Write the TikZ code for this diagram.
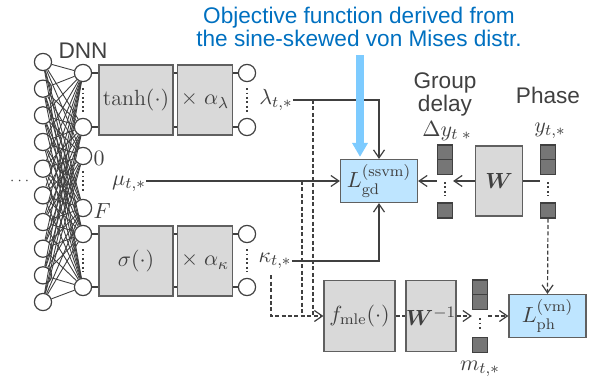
\documentclass[tikz,border=0pt]{standalone}
\usepackage{amsmath,amssymb}
\usepackage{bm}
\usepackage{fontspec}
\newfontfamily\labelfont{Liberation Sans}
\usepackage{tikz}
\usetikzlibrary{arrows.meta,positioning,calc}
\definecolor{linegray}{RGB}{64,64,64}
\definecolor{boxgray}{RGB}{217,217,217}
\definecolor{boxedge}{RGB}{96,96,96}
\definecolor{vecgray}{RGB}{118,118,118}
\definecolor{lossblue}{RGB}{190,229,255}
\definecolor{titleblue}{RGB}{0,112,192}
\definecolor{hintblue}{RGB}{125,203,255}

\begin{document}
\begin{tikzpicture}[x=0.5pt, y=-0.5pt,
    neuron/.style={circle, draw=linegray, fill=white, line width=0.6pt,
        minimum size=8.6pt, inner sep=0pt},
    fbox/.style={rectangle, draw=boxedge, fill=boxgray, line width=0.6pt,
        minimum height=35pt, inner sep=0pt, font=\fontsize{11}{13}\selectfont, text=linegray},
    lossbox/.style={rectangle, draw=boxedge, fill=lossblue, line width=0.6pt,
        minimum width=38.5pt, minimum height=21.5pt, inner sep=0pt,
        font=\fontsize{11}{13}\selectfont, text=linegray},
    vec/.style={rectangle, draw=linegray, fill=vecgray, line width=0.6pt,
        minimum size=7.5pt, inner sep=0pt},
    lbl/.style={font=\fontsize{11}{13}\selectfont, text=linegray, inner sep=0pt},
    caption/.style={font=\labelfont\fontsize{11.3}{10.5}\selectfont, text=linegray,
        align=center, inner sep=0pt},
    conn/.style={draw=linegray, line width=0.6pt},
    arr/.style={conn, -{Straight Barb[length=4pt,width=5.5pt]}},
    dsh/.style={conn, dash pattern=on 2pt off 1.2pt},
    darr/.style={arr, dash pattern=on 2pt off 1.2pt},
    vdots/.style={draw=linegray, line width=0.9pt, dash pattern=on 0.9pt off 1.3pt},
    wire/.style={draw=linegray, line width=0.45pt},
    hint/.style={draw=hintblue, line width=4pt, -{Triangle[length=7pt,width=7.5pt]}}
]
    \useasboundingbox (0,0) rectangle (592,378);

    \node[caption, text=titleblue] (title) at (359,27)
        {Objective function derived from\\the sine-skewed von Mises distr.};
    \node[caption] (dnn) at (83,51) {DNN};
    \node[caption, font=\labelfont\fontsize{11.3}{8.6}\selectfont] (gdl) at (445,94) {Group\\delay};
    \node[caption] (phl) at (548,95) {Phase};

    \foreach \i in {0,...,9}
        \node[neuron] (a\i) at (43,{62+26.67*\i}) {};
    \foreach \y [count=\j] in {73,127,156,208,234,287}
        \node[neuron] (b\j) at (83,\y) {};
    \foreach \i in {0,...,9}
        \foreach \j in {1,...,6}
            \draw[wire] (a\i) -- (b\j);
    \node[lbl, font=\fontsize{7}{8}\selectfont] (more) at (21,181) {$\cdots$};
    \draw[vdots, shorten <=3pt, shorten >=3pt] (b1) -- (b2);
    \draw[vdots, shorten <=3pt, shorten >=3pt] (b3) -- (b4);
    \draw[vdots, shorten <=3pt, shorten >=3pt] (b5) -- (b6);
    \node[lbl, anchor=west] (zero) at ([xshift=0.5pt,yshift=-1pt]b3.east) {$0$};
    \node[lbl, anchor=west] (fdim) at ([xshift=0.5pt,yshift=-1.5pt]b4.east) {$F$};

    \node[fbox, minimum width=37pt] (th) at (136,100) {$\tanh(\cdot)$};
    \node[fbox, minimum width=27.5pt] (ml) at (205,100) {$\times\;\alpha_{\lambda}$};
    \node[fbox, minimum width=37pt] (sg) at (136,261) {$\sigma(\cdot)$};
    \node[fbox, minimum width=27.5pt] (mk) at (205,261) {$\times\;\alpha_{\kappa}$};

    \foreach \y [count=\j] in {73,127,234,287}
        \node[neuron] (c\j) at (247,\y) {};
    \draw[vdots, shorten <=3pt, shorten >=3pt] (c1) -- (c2);
    \draw[vdots, shorten <=3pt, shorten >=3pt] (c3) -- (c4);

    \foreach \n/\m in {b1/th, b2/th, b5/sg, b6/sg}
        \draw[conn] (\n) -- (\n -| \m.west);
    \foreach \n/\p/\q in {b1/th/ml, b2/th/ml, b5/sg/mk, b6/sg/mk}
        \draw[conn] (\p.east |- \n) -- (\q.west |- \n);
    \foreach \n/\m in {c1/ml, c2/ml, c3/mk, c4/mk}
        \draw[conn] (\m.east |- \n) -- (\n);

    \node[lbl] (lam) at (276,100) {$\lambda_{t,*}$};
    \node[lbl] (mu) at (129,184) {$\mu_{t,*}$};
    \node[lbl] (kap) at (275,261) {$\kappa_{t,*}$};

    \node[lossbox] (Lgd) at (379,181) {$L_{\mathrm{gd}}^{(\mathrm{ssvm})}$};
    \node[fbox, minimum width=23.5pt] (W) at (499,181) {$\bm{W}$};

    \node[vec] (g1) at (445,152.5) {};
    \node[vec] (g2) at (445,167) {};
    \node[vec] (g3) at (445,210.5) {};
    \draw[vdots, shorten <=3.5pt, shorten >=3.5pt] (g2) -- (g3);
    \node[lbl] (dy) at (447,131) {$\Delta y_{t\;*}$};

    \node[vec] (p1) at (548,152.5) {};
    \node[vec] (p2) at (548,167) {};
    \node[vec] (p3) at (548,210.5) {};
    \draw[vdots, shorten <=3.5pt, shorten >=3.5pt] (p2) -- (p3);
    \node[lbl] (yph) at (550,131) {$y_{t,*}$};

    \node[fbox, minimum width=35.5pt, minimum height=35.5pt] (fm) at (359.5,316) {$f_{\mathrm{mle}}(\cdot)$};
    \node[fbox, minimum width=24pt, minimum height=35.5pt] (wi) at (431,316) {$\bm{W}^{-1}$};

    \node[vec] (m1) at (480,287.5) {};
    \node[vec] (m2) at (480,302) {};
    \node[vec] (m3) at (480,345) {};
    \draw[vdots, shorten <=4pt, shorten >=3pt] (m2) -- (m3);
    \node[lbl] (mlab) at (480,369) {$m_{t,*}$};

    \node[lossbox] (Lph) at (547.5,316) {$L_{\mathrm{ph}}^{(\mathrm{vm})}$};

    \draw[arr] (lam.east) -| (Lgd.north);
    \draw[arr] (mu.east |- Lgd.west) -- (Lgd.west);
    \draw[arr] (kap.east) -| (Lgd.south);
    \draw[conn] (p1.west |- W.east) -- (W.east);
    \draw[arr] (W.west) -- (W.west -| g1.east);
    \draw[arr] (W.west -| g1.west) -- (Lgd.east);

    \coordinate (tl) at (313,0);
    \coordinate (tm) at (302,0);
    \coordinate (tip) at (360,0);
    \draw[dsh] (lam.east -| tl) -- (fm.west -| tl);
    \draw[dsh] (Lgd.west -| tm) -- (fm.west -| tm);
    \draw[darr, shorten <=3pt] ([xshift=-2pt]kap.south) |- (fm.west);
    \draw[dsh] (fm.east) -- (wi.west);
    \draw[darr] (wi.east) -- (wi.east -| m1.west);
    \draw[darr] (wi.east -| m1.east) -- (Lph.west);
    \draw[darr] (p3.south) -- (Lph.north);

    \draw[hint, shorten <=4pt] (title.south -| tip) -- ([yshift=1pt]Lgd.north -| tip);
\end{tikzpicture}
\end{document}
